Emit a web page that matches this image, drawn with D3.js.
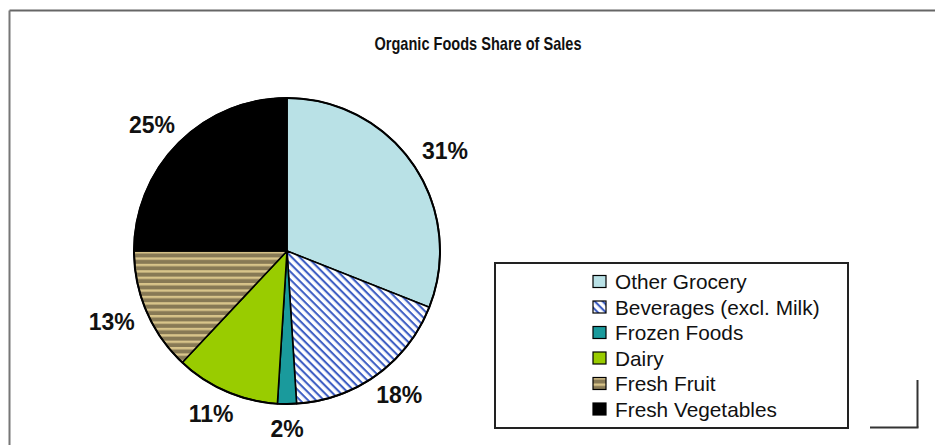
<!DOCTYPE html>
<html>
<head>
<meta charset="utf-8">
<script src="https://cdn.jsdelivr.net/npm/d3@7/dist/d3.min.js"></script>
<style>
  html, body { margin: 0; padding: 0; background: #fff; }
  svg { display: block; font-family: "Liberation Sans", Arial, sans-serif; }
</style>
</head>
<body>
<svg id="chart" width="935" height="445"></svg>
<script>
const title = "Organic Foods Share of Sales";
const categories = ["Other Grocery", "Beverages (excl. Milk)", "Frozen Foods", "Dairy", "Fresh Fruit", "Fresh Vegetables"];
const shares = [31, 18, 2, 11, 13, 25];
const fills = ["#b9e1e6", "url(#patBev)", "#1a9a9c", "#99cc00", "url(#patFruit)", "#000000"];

const W = 935, H = 445;
const svg = d3.select("#chart");
const defs = svg.append("defs");

// Beverages: white with blue diagonal stripes
const pb = defs.append("pattern").attr("id", "patBev")
  .attr("patternUnits", "userSpaceOnUse").attr("width", 8).attr("height", 5.6)
  .attr("patternTransform", "rotate(45)");
pb.append("rect").attr("width", 8).attr("height", 5.6).attr("fill", "#ffffff");
pb.append("rect").attr("y", 0).attr("width", 8).attr("height", 2.1).attr("fill", "#3f5fc4");

// Fresh fruit: horizontal olive / tan stripes
const pf = defs.append("pattern").attr("id", "patFruit")
  .attr("patternUnits", "userSpaceOnUse").attr("width", 8).attr("height", 6.4);
pf.append("rect").attr("width", 8).attr("height", 6.4).attr("fill", "#877955");
pf.append("rect").attr("y", 0).attr("width", 8).attr("height", 2.4).attr("fill", "#d8c48a");

// Outer frame
svg.append("line").attr("x1", 9.5).attr("y1", 10.5).attr("x2", W).attr("y2", 10.5)
  .attr("stroke", "#666").attr("stroke-width", 2);
svg.append("line").attr("x1", 9.5).attr("y1", 10.5).attr("x2", 9.5).attr("y2", H)
  .attr("stroke", "#777").attr("stroke-width", 2);
svg.append("line").attr("x1", 917.5).attr("y1", 380).attr("x2", 917.5).attr("y2", 427.5)
  .attr("stroke", "#333").attr("stroke-width", 2);
svg.append("line").attr("x1", 870).attr("y1", 427.5).attr("x2", 918.5).attr("y2", 427.5)
  .attr("stroke", "#333").attr("stroke-width", 2);

// Title
svg.append("text").attr("x", 478).attr("y", 50)
  .attr("text-anchor", "middle")
  .attr("font-size", 19).attr("font-weight", "bold")
  .attr("textLength", 207).attr("lengthAdjust", "spacingAndGlyphs")
  .attr("fill", "#111").text(title);

// Pie
const cx = 287, cy = 251, r = 153;
const pie = d3.pie().sort(null).value(d => d);
const arcs = pie(shares);
const arc = d3.arc().innerRadius(0).outerRadius(r);
const g = svg.append("g").attr("transform", `translate(${cx},${cy})`);
g.selectAll("path.slice").data(arcs).join("path")
  .attr("class", "slice")
  .attr("d", arc)
  .attr("fill", (d, i) => fills[i])
  .attr("stroke", "#000").attr("stroke-width", 1.6).attr("stroke-linejoin", "round");
g.append("circle").attr("r", r).attr("fill", "none").attr("stroke", "#000").attr("stroke-width", 2);

// Labels
const labelR = r + 18;
const lblW = 40, lblH = 14;
g.selectAll("text.lbl").data(arcs).join("text")
  .attr("class", "lbl")
  .attr("x", d => {
    const a = (d.startAngle + d.endAngle) / 2;
    return Math.sin(a) * labelR + Math.sin(a) * lblW / 2;
  })
  .attr("y", d => {
    const a = (d.startAngle + d.endAngle) / 2;
    return -Math.cos(a) * labelR - Math.cos(a) * lblH / 2 + 8;
  })
  .attr("text-anchor", "middle")
  .attr("font-size", 23).attr("font-weight", "bold").attr("fill", "#111")
  .text(d => d.data + "%");

// Legend
const lx = 495, ly = 263, lw = 353, lh = 165;
svg.append("rect").attr("x", lx).attr("y", ly).attr("width", lw).attr("height", lh)
  .attr("fill", "#fff").attr("stroke", "#222").attr("stroke-width", 2);
const rowY = d3.scalePoint().domain(categories).range([281.5, 409]);
const leg = svg.append("g");
const items = leg.selectAll("g").data(categories).join("g")
  .attr("transform", d => `translate(0,${rowY(d)})`);
items.append("rect").attr("x", 593).attr("y", -6).attr("width", 13).attr("height", 12)
  .attr("fill", (d, i) => fills[i]).attr("stroke", "#000").attr("stroke-width", 1.2);
items.append("text").attr("x", 615).attr("y", 7.5)
  .attr("font-size", 20.8).attr("fill", "#111").text(d => d);
</script>
</body>
</html>
